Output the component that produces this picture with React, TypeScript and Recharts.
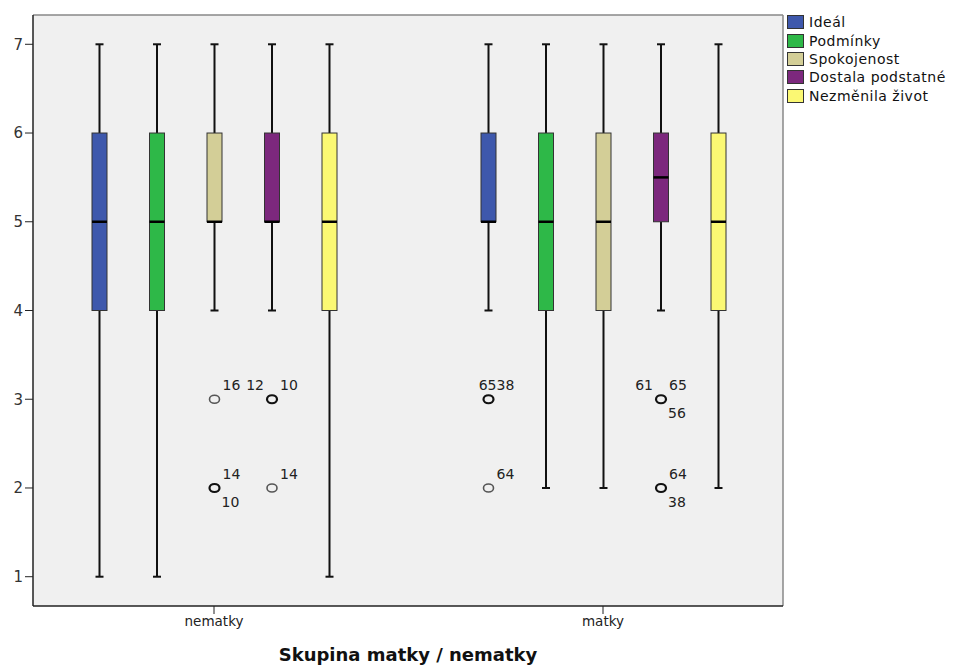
import { Bar, CartesianGrid, ComposedChart, Line, XAxis, YAxis } from "recharts";

const GROUPS = ["nematky", "matky"];
const SERIES = ["Ideál", "Podmínky", "Spokojenost", "Dostala podstatné", "Nezměnila život"];
const COLORS = ["#3e58ac", "#2eb848", "#d3ce97", "#7c287d", "#fbf873"];

// each row is one series, columns are [nematky, matky]
const LOW = [[1, 4], [1, 2], [4, 2], [4, 4], [1, 2]];
const Q1 = [[4, 5], [4, 4], [5, 4], [5, 5], [4, 4]];
const MEDIAN = [[5, 5], [5, 5], [5, 5], [5, 5.5], [5, 5]];
const Q3 = [[6, 6], [6, 6], [6, 6], [6, 6], [6, 6]];
const HIGH = [[7, 7], [7, 7], [7, 7], [7, 7], [7, 7]];

const OUTLIERS = [
  { series: 2, group: 0, value: 3, cases: ["16"] },
  { series: 2, group: 0, value: 2, cases: ["14", "10"] },
  { series: 3, group: 0, value: 3, cases: ["12", "10"] },
  { series: 3, group: 0, value: 2, cases: ["14"] },
  { series: 0, group: 1, value: 3, cases: ["65", "38"] },
  { series: 0, group: 1, value: 2, cases: ["64"] },
  { series: 3, group: 1, value: 3, cases: ["61", "65", "56"] },
  { series: 3, group: 1, value: 2, cases: ["64", "38"] },
];

const Y_TICKS = [1, 2, 3, 4, 5, 6, 7];
const Y_DOMAIN = [0.67, 7.33];

// where each case label sits around its circle
const LABEL_SPOTS: Record<string, string[]> = {
  "2-0-2": ["ur", "lr"],
  "3-0-3": ["ul", "ur"],
  "0-1-3": ["uc", "ur"],
  "3-1-3": ["ul", "ur", "lr"],
  "3-1-2": ["ur", "lr"],
};

const FONT = "'DejaVu Sans', Verdana, sans-serif";

const data = GROUPS.map((group, gi) => {
  const row: Record<string, any> = { group, frame: null };
  SERIES.forEach((_, s) => {
    row[`s${s}`] = [LOW[s][gi], HIGH[s][gi]];
  });
  return row;
});

function labelPos(spot: string, cx: number, cy: number) {
  switch (spot) {
    case "ul":
      return { x: cx - 8, y: cy - 9, anchor: "end" };
    case "uc":
      return { x: cx + 8, y: cy - 9, anchor: "end" };
    case "lr":
      return { x: cx + 7, y: cy + 19, anchor: "start" };
    default:
      return { x: cx + 8, y: cy - 9, anchor: "start" };
  }
}

function BoxShape(props: any) {
  const { x, y, width, height, index, s } = props;
  const gi = index;
  const top = Math.min(y, y + height);
  const h = Math.abs(height);
  const lo = LOW[s][gi];
  const hi = HIGH[s][gi];
  // map a value onto the bar's own pixel span
  const py = (v: number) => top + (h * (hi - v)) / (hi - lo);
  const cx = x + width / 2;
  const half = 7.5;
  const cap = 4;

  const outs = OUTLIERS.filter((o) => o.series === s && o.group === gi);

  return (
    <g>
      <line x1={cx} x2={cx} y1={py(hi)} y2={py(Q3[s][gi])} stroke="#111" strokeWidth={2} />
      <line x1={cx} x2={cx} y1={py(Q1[s][gi])} y2={py(lo)} stroke="#111" strokeWidth={2} />
      <line x1={cx - cap} x2={cx + cap} y1={py(hi)} y2={py(hi)} stroke="#111" strokeWidth={2} />
      <line x1={cx - cap} x2={cx + cap} y1={py(lo)} y2={py(lo)} stroke="#111" strokeWidth={2} />
      <rect
        x={cx - half}
        y={py(Q3[s][gi])}
        width={half * 2}
        height={py(Q1[s][gi]) - py(Q3[s][gi])}
        fill={COLORS[s]}
        stroke="#333"
        strokeWidth={1}
      />
      <line
        x1={cx - half}
        x2={cx + half}
        y1={py(MEDIAN[s][gi])}
        y2={py(MEDIAN[s][gi])}
        stroke="#000"
        strokeWidth={2.5}
      />
      {outs.map((o) => {
        const oy = py(o.value);
        const bold = o.cases.length > 1;
        const spots = LABEL_SPOTS[`${s}-${gi}-${o.value}`] ?? ["ur"];
        return (
          <g key={o.value}>
            <ellipse
              cx={cx}
              cy={oy}
              rx={5}
              ry={4}
              fill="none"
              stroke={bold ? "#111" : "#555"}
              strokeWidth={bold ? 2.2 : 1.6}
            />
            {o.cases.map((c, k) => {
              const p = labelPos(spots[k] ?? "ur", cx, oy);
              return (
                <text
                  key={k}
                  x={p.x}
                  y={p.y}
                  textAnchor={p.anchor as any}
                  fontSize={14}
                  fontFamily={FONT}
                  fill="#222"
                >
                  {c}
                </text>
              );
            })}
          </g>
        );
      })}
    </g>
  );
}

export default function App() {
  return (
    <div style={{ position: "absolute", left: 0, top: 0, width: 955, height: 666, background: "#fff" }}>
      <ComposedChart
        width={955}
        height={666}
        data={data}
        margin={{ top: 14, right: 171, bottom: 0, left: 0 }}
        barGap={41.5}
      >
        <CartesianGrid fill="#f0f0f0" horizontal={false} vertical={false} />
        {/* frame: top and right edges */}
        <XAxis
          xAxisId="frame"
          dataKey="group"
          orientation="top"
          height={1}
          tick={false}
          tickLine={false}
          axisLine={{ stroke: "#888", strokeWidth: 1.5 }}
        />
        <YAxis
          yAxisId="frame"
          orientation="right"
          width={1}
          type="number"
          domain={Y_DOMAIN}
          tick={false}
          tickLine={false}
          axisLine={{ stroke: "#888", strokeWidth: 1.5 }}
        />
        <Line
          xAxisId="frame"
          yAxisId="frame"
          dataKey="frame"
          stroke="none"
          dot={false}
          activeDot={false}
          legendType="none"
          isAnimationActive={false}
        />
        <XAxis
          dataKey="group"
          height={60}
          padding={{ left: -13.5, right: -14.5 }}
          tickSize={8}
          tickLine={{ stroke: "#222" }}
          axisLine={{ stroke: "#222", strokeWidth: 1.5 }}
          tick={{ fontSize: 13.5, fill: "#222", fontFamily: FONT }}
          label={{
            value: "Skupina matky / nematky",
            position: "insideBottom",
            offset: 5,
            style: { fontSize: 18, fontWeight: "bold", fill: "#111", fontFamily: FONT },
          }}
        />
        <YAxis
          type="number"
          width={33}
          domain={Y_DOMAIN}
          ticks={Y_TICKS}
          tickSize={8}
          tickMargin={2}
          tickLine={{ stroke: "#222" }}
          axisLine={{ stroke: "#222", strokeWidth: 1.5 }}
          tick={{ fontSize: 15, fill: "#333", fontFamily: FONT }}
        />
        {SERIES.map((name, s) => (
          <Bar
            key={name}
            dataKey={`s${s}`}
            name={name}
            barSize={16}
            fill={COLORS[s]}
            isAnimationActive={false}
            shape={(p: any) => <BoxShape {...p} s={s} />}
          />
        ))}
      </ComposedChart>
      <div
        style={{
          position: "absolute",
          left: 787,
          top: 13,
          fontFamily: FONT,
          fontSize: 14,
          letterSpacing: 0.5,
          color: "#111",
        }}
      >
        {SERIES.map((name, s) => (
          <div key={name} style={{ display: "flex", alignItems: "center", height: 18.4, whiteSpace: "nowrap" }}>
            <span
              style={{
                display: "inline-block",
                width: 15,
                height: 12,
                background: COLORS[s],
                border: "1px solid #333",
                marginRight: 5,
              }}
            />
            <span>{name}</span>
          </div>
        ))}
      </div>
    </div>
  );
}
